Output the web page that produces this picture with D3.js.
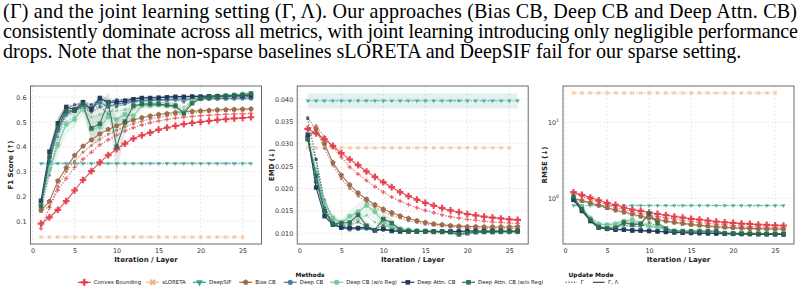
<!DOCTYPE html>
<html><head><meta charset="utf-8">
<script src="https://cdn.jsdelivr.net/npm/d3@7"></script>
<style>body{margin:0;background:#fff;} svg{display:block;}</style>
</head><body><svg id="c" width="805" height="292"></svg>
<script>
// ---------------- DATA ----------------
const paragraph = [
  "(\u0393) and the joint learning setting (\u0393, \u039B). Our approaches (Bias CB, Deep CB and Deep Attn. CB)",
  "consistently dominate across all metrics, with joint learning introducing only negligible performance",
  "drops. Note that the non-sparse baselines sLORETA and DeepSIF fail for our sparse setting."
];
const iterations = [1,2,3,4,5,6,7,8,9,10,11,12,13,14,15,16,17,18,19,20,21,22,23,24,25,26];
const sloretaIters = [1,2,3,4,5,6,7,8,9,10,11,12,13,14,15,16,17,18,19,20,21,22,23,24,25];
const methods = ["Convex Bounding","sLORETA","DeepSIF","Bias CB","Deep CB","Deep CB (w/o Reg)","Deep Attn. CB","Deep Attn. CB (w/o Reg)"];
const modes = ["\u0393","\u0393, \u039B"];
const xTicks = [0,5,10,15,20,25];
const f1Ticks = [0.1,0.2,0.3,0.4,0.5,0.6];
const emdTicks = [0.010,0.015,0.020,0.025,0.030,0.035,0.040];
const rmseTicks = [1,10];

// F1 score
const f1_sloreta = [0.036,0.036,0.036,0.036,0.036,0.036,0.036,0.036,0.036,0.036,0.036,0.036,0.036,0.036,0.036,0.036,0.036,0.036,0.036,0.036,0.036,0.036,0.036,0.036,0.036];
const f1_deepsif = [0.333,0.333,0.333,0.333,0.333,0.333,0.333,0.333,0.333,0.333,0.333,0.333,0.333,0.333,0.333,0.333,0.333,0.333,0.333,0.333,0.333,0.333,0.333,0.333,0.333,0.333];
const f1_deepsif_band = [0.007,0.007,0.007,0.007,0.007,0.007,0.007,0.007,0.007,0.007,0.007,0.007,0.007,0.007,0.007,0.007,0.007,0.007,0.007,0.007,0.007,0.007,0.007,0.007,0.007,0.007];
const f1_cb_G   = [0.070,0.155,0.225,0.272,0.317,0.350,0.378,0.408,0.428,0.447,0.464,0.477,0.488,0.497,0.504,0.510,0.515,0.519,0.522,0.525,0.527,0.529,0.531,0.532,0.533,0.535];
const f1_cb_GL  = [0.090,0.115,0.146,0.181,0.224,0.266,0.302,0.337,0.366,0.390,0.413,0.433,0.446,0.457,0.469,0.477,0.484,0.491,0.496,0.500,0.504,0.508,0.511,0.514,0.516,0.519];
const f1_bias_G = [0.140,0.160,0.240,0.300,0.342,0.378,0.405,0.430,0.450,0.467,0.481,0.493,0.503,0.512,0.519,0.525,0.530,0.534,0.537,0.540,0.542,0.544,0.546,0.547,0.548,0.549];
const f1_bias_GL= [0.143,0.180,0.262,0.315,0.365,0.402,0.428,0.452,0.470,0.485,0.497,0.508,0.517,0.524,0.530,0.534,0.538,0.541,0.543,0.545,0.547,0.549,0.550,0.551,0.552,0.553];
const f1_dcb_G  = [0.150,0.285,0.440,0.525,0.545,0.560,0.555,0.565,0.530,0.565,0.570,0.580,0.585,0.585,0.587,0.588,0.588,0.590,0.590,0.590,0.591,0.591,0.592,0.592,0.593,0.593];
const f1_dcb_GL = [0.170,0.340,0.465,0.535,0.545,0.565,0.558,0.578,0.562,0.572,0.577,0.585,0.588,0.588,0.590,0.590,0.592,0.592,0.593,0.594,0.594,0.595,0.595,0.596,0.596,0.596];
const f1_wo_G   = [0.160,0.300,0.400,0.500,0.520,0.545,0.520,0.530,0.540,0.545,0.550,0.555,0.575,0.575,0.578,0.580,0.575,0.560,0.590,0.595,0.598,0.600,0.601,0.602,0.603,0.605];
const f1_wo_GL  = [0.165,0.310,0.410,0.490,0.510,0.560,0.470,0.480,0.520,0.510,0.530,0.525,0.565,0.565,0.568,0.565,0.560,0.540,0.590,0.600,0.603,0.606,0.608,0.610,0.612,0.615];
const f1_att_G  = [0.170,0.360,0.485,0.555,0.570,0.575,0.570,0.590,0.580,0.590,0.590,0.595,0.598,0.598,0.600,0.600,0.602,0.602,0.603,0.603,0.604,0.604,0.605,0.605,0.605,0.606];
const f1_att_GL = [0.182,0.380,0.495,0.560,0.550,0.580,0.550,0.597,0.580,0.580,0.585,0.592,0.597,0.597,0.598,0.600,0.602,0.602,0.603,0.603,0.604,0.604,0.604,0.605,0.605,0.605];
const f1_awo_G  = [0.160,0.340,0.470,0.540,0.545,0.560,0.540,0.560,0.570,0.560,0.575,0.580,0.585,0.585,0.588,0.590,0.590,0.580,0.595,0.600,0.602,0.604,0.605,0.606,0.607,0.608];
const f1_awo_GL = [0.160,0.360,0.480,0.545,0.545,0.570,0.475,0.493,0.580,0.400,0.502,0.565,0.572,0.572,0.572,0.568,0.565,0.534,0.575,0.595,0.600,0.603,0.605,0.607,0.610,0.615];
const f1_wo_band  = [0.010,0.030,0.050,0.040,0.030,0.030,0.050,0.050,0.030,0.040,0.030,0.030,0.015,0.012,0.012,0.012,0.012,0.015,0.010,0.008,0.006,0.006,0.006,0.006,0.006,0.006];
const f1_awo_band = [0.010,0.030,0.040,0.020,0.020,0.020,0.060,0.080,0.040,0.110,0.050,0.020,0.012,0.010,0.010,0.010,0.010,0.015,0.010,0.006,0.006,0.006,0.006,0.006,0.006,0.006];
const f1_att_band = [0.010,0.020,0.020,0.015,0.015,0.015,0.020,0.012,0.015,0.012,0.010,0.008,0.006,0.006,0.006,0.006,0.006,0.006,0.006,0.005,0.005,0.005,0.005,0.005,0.005,0.005];

// EMD
const emd_sloreta = [0.0291,0.0291,0.0291,0.0291,0.0291,0.0291,0.0291,0.0291,0.0291,0.0291,0.0291,0.0291,0.0291,0.0291,0.0291,0.0291,0.0291,0.0291,0.0291,0.0291,0.0291,0.0291,0.0291,0.0291,0.0291];
const emd_deepsif = [0.0396,0.0396,0.0396,0.0396,0.0396,0.0396,0.0396,0.0396,0.0396,0.0396,0.0396,0.0396,0.0396,0.0396,0.0396,0.0396,0.0396,0.0396,0.0396,0.0396,0.0396,0.0396,0.0396,0.0396,0.0396,0.0396];
const emd_deepsif_band = [0.0017,0.0017,0.0017,0.0017,0.0017,0.0017,0.0017,0.0017,0.0017,0.0017,0.0017,0.0017,0.0017,0.0017,0.0017,0.0017,0.0017,0.0017,0.0017,0.0017,0.0017,0.0017,0.0017,0.0017,0.0017,0.0017];
const emd_cb_G   = [0.0333,0.0340,0.0315,0.0293,0.0270,0.0248,0.0232,0.0218,0.0204,0.0192,0.0181,0.0172,0.0164,0.0157,0.0151,0.0146,0.0141,0.0137,0.0134,0.0131,0.0129,0.0127,0.0125,0.0124,0.0123,0.0122];
const emd_cb_GL  = [0.0333,0.0323,0.0310,0.0295,0.0279,0.0265,0.0252,0.0238,0.0226,0.0214,0.0203,0.0192,0.0183,0.0175,0.0168,0.0162,0.0156,0.0151,0.0147,0.0143,0.0140,0.0137,0.0135,0.0133,0.0131,0.0130];
const emd_bias_G = [0.0359,0.0330,0.0290,0.0252,0.0222,0.0200,0.0183,0.0170,0.0158,0.0148,0.0140,0.0134,0.0128,0.0124,0.0120,0.0118,0.0116,0.0114,0.0113,0.0112,0.0112,0.0111,0.0111,0.0111,0.0111,0.0111];
const emd_bias_GL= [0.0313,0.0333,0.0300,0.0258,0.0230,0.0208,0.0190,0.0176,0.0164,0.0154,0.0146,0.0139,0.0133,0.0128,0.0124,0.0121,0.0119,0.0117,0.0116,0.0115,0.0115,0.0114,0.0114,0.0114,0.0114,0.0115];
const emd_dcb_G  = [0.0318,0.0265,0.0175,0.0130,0.0118,0.0112,0.0110,0.0110,0.0108,0.0107,0.0106,0.0106,0.0105,0.0105,0.0105,0.0105,0.0104,0.0104,0.0104,0.0104,0.0104,0.0104,0.0104,0.0104,0.0103,0.0103];
const emd_dcb_GL = [0.0310,0.0215,0.0148,0.0122,0.0112,0.0109,0.0110,0.0111,0.0107,0.0109,0.0106,0.0105,0.0105,0.0105,0.0105,0.0104,0.0104,0.0104,0.0104,0.0104,0.0104,0.0104,0.0104,0.0104,0.0104,0.0104];
const emd_wo_G   = [0.0315,0.0245,0.0170,0.0135,0.0125,0.0125,0.0130,0.0140,0.0125,0.0118,0.0112,0.0108,0.0106,0.0105,0.0104,0.0104,0.0103,0.0103,0.0103,0.0103,0.0103,0.0102,0.0102,0.0102,0.0102,0.0102];
const emd_wo_GL  = [0.0310,0.0235,0.0165,0.0135,0.0123,0.0138,0.0148,0.0162,0.0148,0.0125,0.0115,0.0110,0.0108,0.0106,0.0105,0.0104,0.0104,0.0103,0.0103,0.0103,0.0103,0.0103,0.0102,0.0102,0.0102,0.0102];
const emd_att_G  = [0.0356,0.0265,0.0160,0.0122,0.0114,0.0112,0.0110,0.0110,0.0107,0.0107,0.0106,0.0105,0.0105,0.0105,0.0105,0.0104,0.0104,0.0104,0.0104,0.0104,0.0104,0.0104,0.0104,0.0104,0.0104,0.0104];
const emd_att_GL = [0.0320,0.0202,0.0138,0.0119,0.0113,0.0112,0.0112,0.0114,0.0106,0.0110,0.0105,0.0104,0.0104,0.0104,0.0104,0.0104,0.0104,0.0104,0.0104,0.0105,0.0105,0.0105,0.0105,0.0105,0.0105,0.0105];
const emd_awo_G  = [0.0312,0.0235,0.0155,0.0122,0.0118,0.0118,0.0125,0.0115,0.0108,0.0118,0.0112,0.0106,0.0105,0.0104,0.0104,0.0103,0.0103,0.0102,0.0100,0.0101,0.0102,0.0102,0.0103,0.0103,0.0103,0.0103];
const emd_awo_GL = [0.0310,0.0228,0.0150,0.0120,0.0123,0.0124,0.0141,0.0117,0.0107,0.0132,0.0123,0.0108,0.0105,0.0104,0.0104,0.0103,0.0103,0.0102,0.0097,0.0100,0.0102,0.0103,0.0103,0.0104,0.0104,0.0104];
const emd_wo_band  = [0.0006,0.0015,0.0015,0.0010,0.0008,0.0012,0.0018,0.0020,0.0015,0.0010,0.0008,0.0005,0.0004,0.0003,0.0003,0.0003,0.0003,0.0003,0.0003,0.0003,0.0003,0.0003,0.0003,0.0003,0.0003,0.0003];
const emd_awo_band = [0.0006,0.0015,0.0012,0.0006,0.0008,0.0010,0.0014,0.0010,0.0006,0.0012,0.0010,0.0004,0.0003,0.0003,0.0003,0.0003,0.0003,0.0003,0.0004,0.0003,0.0003,0.0003,0.0003,0.0003,0.0003,0.0003];

// RMSE
const rmse_sloreta = [24.3,24.3,24.3,24.3,24.3,24.3,24.3,24.3,24.3,24.3,24.3,24.3,24.3,24.3,24.3,24.3,24.3,24.3,24.3,24.3,24.3,24.3,24.3,24.3,24.3];
const rmse_deepsif = [0.80,0.80,0.80,0.80,0.80,0.80,0.80,0.80,0.80,0.80,0.80,0.80,0.80,0.80,0.80,0.80,0.80,0.80,0.80,0.80,0.80,0.80,0.80,0.80,0.80,0.80];
const rmse_deepsif_band = [0.01,0.01,0.01,0.01,0.01,0.01,0.01,0.01,0.01,0.01,0.01,0.01,0.01,0.01,0.01,0.01,0.01,0.01,0.01,0.01,0.01,0.01,0.01,0.01,0.01,0.01];
const rmse_cb_G   = [1.15,1.06,0.97,0.89,0.82,0.76,0.71,0.665,0.63,0.60,0.575,0.55,0.53,0.51,0.495,0.48,0.468,0.457,0.447,0.44,0.432,0.425,0.42,0.415,0.41,0.407];
const rmse_cb_GL  = [1.20,1.11,1.02,0.94,0.868,0.817,0.754,0.71,0.68,0.648,0.622,0.598,0.574,0.557,0.535,0.524,0.508,0.493,0.483,0.474,0.464,0.46,0.45,0.446,0.441,0.437];
const rmse_bias_G = [0.98,0.91,0.85,0.79,0.73,0.68,0.64,0.60,0.565,0.535,0.51,0.49,0.47,0.455,0.44,0.43,0.42,0.412,0.405,0.40,0.396,0.392,0.389,0.387,0.385,0.384];
const rmse_bias_GL= [1.00,0.93,0.87,0.81,0.75,0.70,0.66,0.62,0.58,0.55,0.525,0.503,0.483,0.467,0.453,0.442,0.432,0.423,0.416,0.41,0.405,0.401,0.398,0.396,0.394,0.393];
const rmse_dcb_G  = [0.97,0.72,0.52,0.43,0.41,0.40,0.39,0.385,0.38,0.375,0.37,0.365,0.36,0.355,0.352,0.35,0.348,0.346,0.344,0.342,0.34,0.339,0.338,0.337,0.336,0.335];
const rmse_dcb_GL = [0.96,0.70,0.51,0.42,0.40,0.39,0.385,0.38,0.375,0.372,0.368,0.363,0.358,0.354,0.351,0.349,0.347,0.345,0.343,0.341,0.339,0.338,0.337,0.336,0.335,0.334];
const rmse_wo_G   = [1.00,0.76,0.56,0.46,0.44,0.44,0.46,0.48,0.45,0.42,0.41,0.39,0.375,0.37,0.365,0.36,0.358,0.355,0.35,0.348,0.346,0.345,0.344,0.343,0.342,0.341];
const rmse_wo_GL  = [1.00,0.75,0.55,0.46,0.45,0.46,0.50,0.52,0.47,0.43,0.42,0.39,0.37,0.365,0.36,0.358,0.356,0.354,0.35,0.348,0.347,0.346,0.345,0.344,0.343,0.342];
const rmse_att_G  = [0.98,0.70,0.51,0.41,0.395,0.39,0.385,0.38,0.378,0.372,0.366,0.36,0.355,0.352,0.349,0.347,0.345,0.343,0.341,0.34,0.339,0.338,0.337,0.336,0.335,0.334];
const rmse_att_GL = [0.95,0.68,0.50,0.41,0.395,0.385,0.385,0.375,0.375,0.37,0.365,0.36,0.355,0.352,0.349,0.347,0.345,0.343,0.341,0.34,0.339,0.338,0.337,0.336,0.335,0.334];
const rmse_awo_G  = [1.02,0.72,0.52,0.42,0.40,0.41,0.44,0.43,0.42,0.48,0.43,0.39,0.37,0.365,0.36,0.36,0.36,0.36,0.345,0.343,0.342,0.341,0.34,0.34,0.34,0.34];
const rmse_awo_GL = [1.05,0.72,0.52,0.42,0.40,0.41,0.48,0.45,0.46,0.63,0.47,0.40,0.37,0.37,0.37,0.37,0.37,0.37,0.345,0.343,0.342,0.341,0.34,0.34,0.34,0.34];
const rmse_wo_band  = [0.03,0.04,0.04,0.03,0.03,0.04,0.05,0.05,0.04,0.03,0.03,0.02,0.01,0.01,0.01,0.01,0.01,0.01,0.01,0.01,0.01,0.01,0.01,0.01,0.01,0.01];
const rmse_awo_band = [0.03,0.03,0.03,0.02,0.02,0.03,0.05,0.04,0.04,0.06,0.04,0.02,0.01,0.01,0.01,0.01,0.01,0.01,0.01,0.01,0.01,0.01,0.01,0.01,0.01,0.01];

// ---------------- STYLE ----------------
const methodColors = ["#e63946","#f4a261","#2a9d8f","#9c6644","#457b9d","#74c69d","#1d3557","#2d6a4f"];
const methodMarkers = ["plus","x","tri","pent","circle","circle","square","square"];

// series tables per metric: [methodIndex, modeIndex, values, band]
const metricSeries = {
  f1: [[0,0,f1_cb_G],[0,1,f1_cb_GL],[3,0,f1_bias_G],[3,1,f1_bias_GL],[4,0,f1_dcb_G],[4,1,f1_dcb_GL],
       [5,0,f1_wo_G],[5,1,f1_wo_GL,f1_wo_band],[6,0,f1_att_G],[6,1,f1_att_GL,f1_att_band],[7,0,f1_awo_G],[7,1,f1_awo_GL,f1_awo_band]],
  emd:[[0,0,emd_cb_G],[0,1,emd_cb_GL],[3,0,emd_bias_G],[3,1,emd_bias_GL],[4,0,emd_dcb_G],[4,1,emd_dcb_GL],
       [5,0,emd_wo_G],[5,1,emd_wo_GL,emd_wo_band],[6,0,emd_att_G],[6,1,emd_att_GL],[7,0,emd_awo_G],[7,1,emd_awo_GL,emd_awo_band]],
  rmse:[[0,0,rmse_cb_G],[0,1,rmse_cb_GL],[3,0,rmse_bias_G],[3,1,rmse_bias_GL],[4,0,rmse_dcb_G],[4,1,rmse_dcb_GL],
       [5,0,rmse_wo_G],[5,1,rmse_wo_GL,rmse_wo_band],[6,0,rmse_att_G],[6,1,rmse_att_GL],[7,0,rmse_awo_G],[7,1,rmse_awo_GL,rmse_awo_band]]
};
const metricBaselines = {
  f1:  {slo:f1_sloreta, dsif:f1_deepsif, dsifBand:f1_deepsif_band},
  emd: {slo:emd_sloreta, dsif:emd_deepsif, dsifBand:emd_deepsif_band},
  rmse:{slo:rmse_sloreta, dsif:rmse_deepsif, dsifBand:rmse_deepsif_band}
};

// ---------------- DRAW ----------------
const svg = d3.select('#c');
const TOP = 86, BOT = 244;
const SANS = "DejaVu Sans, sans-serif";

// paragraph
const ptxt = svg.append('g').attr('font-family','Liberation Serif, Times New Roman, serif').attr('fill','#000');
const lineY = [17.5, 37.8, 58];
const lineLen = [794, 795, 739];
const t3 = ptxt.append('text').attr('x',3).attr('y',lineY[2]).attr('font-size',18).text(paragraph[2]);
const nat = t3.node().getComputedTextLength();
const fs = 18 * lineLen[2] / nat;
t3.attr('font-size', fs);
paragraph.slice(0,2).forEach((s,i)=>{
  ptxt.append('text').attr('x',3).attr('y',lineY[i]).attr('font-size',fs)
    .attr('textLength',lineLen[i]).attr('lengthAdjust','spacing').text(s);
});

const pentType = {draw(ctx,size){const r=Math.sqrt(size/2.3776);for(let i=0;i<5;i++){const a=-Math.PI/2+i*2*Math.PI/5;const px=r*Math.cos(a),py=r*Math.sin(a);if(i)ctx.lineTo(px,py);else ctx.moveTo(px,py);}ctx.closePath();}};
function symType(m){return m==='plus'||m==='x'?d3.symbolCross:m==='tri'?d3.symbolTriangle:m==='pent'?pentType:m==='circle'?d3.symbolCircle:d3.symbolSquare;}
function symRot(m){return m==='x'?45:m==='tri'?180:0;}
function symSize(m,base){return m==='plus'||m==='x'?base*1.25:m==='circle'?base*0.95:m==='tri'?base*0.9:base;}

const panels = [
  {id:'f1', left:30.5, right:261.5, title:'F1 Score (\u2191)', titleX:11,
   y:d3.scaleLinear().domain([0.008,0.645]).range([BOT,TOP]), ticks:f1Ticks, fmt:d3.format('.1f')},
  {id:'emd', left:297.2, right:528.2, title:'EMD (\u2193)', titleX:271.5,
   y:d3.scaleLinear().domain([0.0076,0.0429]).range([BOT,TOP]), ticks:emdTicks, fmt:d3.format('.3f')},
  {id:'rmse', left:563, right:794, title:'RMSE (\u2193)', titleX:544.5,
   y:d3.scaleLog().domain([0.25,30]).range([BOT,TOP]), ticks:rmseTicks, fmt:null}
];

panels.forEach((p,pi)=>{
  const x = d3.scaleLinear().domain([-0.25,27.25]).range([p.left,p.right]);
  const y = p.y;
  const g = svg.append('g');
  const cid = 'clip'+pi;
  svg.append('clipPath').attr('id',cid).append('rect').attr('x',p.left).attr('y',TOP).attr('width',p.right-p.left).attr('height',BOT-TOP);

  // grid
  const grid = g.append('g').attr('stroke','#d9d9d9').attr('stroke-width',0.6).attr('stroke-dasharray','2,2');
  grid.selectAll('.gx').data(xTicks).join('line').attr('x1',d=>x(d)).attr('x2',d=>x(d)).attr('y1',TOP).attr('y2',BOT);
  grid.selectAll('.gy').data(p.ticks).join('line').attr('y1',d=>y(d)).attr('y2',d=>y(d)).attr('x1',p.left).attr('x2',p.right);

  // axes
  const ax = g.append('g').attr('transform',`translate(0,${BOT})`)
    .call(d3.axisBottom(x).tickValues(xTicks).tickSize(0).tickPadding(4.5));
  const ay = g.append('g').attr('transform',`translate(${p.left},0)`)
    .call(d3.axisLeft(y).tickValues(p.ticks).tickSize(0).tickPadding(4).tickFormat(p.fmt||(d=>'10')));
  [ax,ay].forEach(a=>{a.select('.domain').remove(); a.selectAll('text').attr('font-family',SANS).attr('font-size',6.4).attr('fill','#333');});
  if(!p.fmt){
    ay.selectAll('text').each(function(d){
      const t=d3.select(this); t.text(null);
      t.append('tspan').text('10');
      t.append('tspan').attr('dy',-2.6).attr('font-size',4.6).text(String(Math.round(Math.log10(d))));
    });
  }

  const plot = g.append('g').attr('clip-path',`url(#${cid})`);
  const line = d3.line().x(d=>x(d[0])).y(d=>y(d[1]));
  const area = d3.area().x(d=>x(d[0])).y0(d=>y(d[1]-d[2])).y1(d=>y(d[1]+d[2]));

  const bl = metricBaselines[p.id];
  const series = metricSeries[p.id];

  // bands
  plot.append('path').datum(iterations.map((it,i)=>[it,bl.dsif[i],bl.dsifBand[i]]))
    .attr('d',area).attr('fill',methodColors[2]).attr('fill-opacity',0.13);
  series.filter(s=>s[3]).forEach(s=>{
    plot.append('path').datum(iterations.map((it,i)=>[it,s[2][i],s[3][i]]))
      .attr('d',area).attr('fill',s[0]===7?'#6b7f75':methodColors[s[0]]).attr('fill-opacity',0.16);
  });

  // baselines (dash-dot)
  [[1,sloretaIters,bl.slo],[2,iterations,bl.dsif]].forEach(([m,its,vals])=>{
    const pts = its.map((it,i)=>[it,vals[i]]);
    plot.append('path').datum(pts).attr('d',line).attr('fill','none')
      .attr('stroke',methodColors[m]).attr('stroke-width',1).attr('stroke-opacity',m===1?0.55:0.8)
      .attr('stroke-dasharray','3.5,1.2,1,1.2');
    plot.selectAll(null).data(pts).join('path')
      .attr('d',d3.symbol(symType(methodMarkers[m]),symSize(methodMarkers[m],9)))
      .attr('transform',d=>`translate(${x(d[0])},${y(d[1])}) rotate(${symRot(methodMarkers[m])})`)
      .attr('fill',methodColors[m]).attr('fill-opacity',m===1?0.5:0.75);
  });

  // learned methods: Γ (dotted) then Γ,Λ (solid)
  [0,1].forEach(mode=>{
    series.filter(s=>s[1]===mode).forEach(s=>{
      const m=s[0], col=methodColors[m], mk=methodMarkers[m];
      const pts = iterations.map((it,i)=>[it,s[2][i]]);
      plot.append('path').datum(pts).attr('d',line).attr('fill','none')
        .attr('stroke',col).attr('stroke-width',mode?1.1:1.2)
        .attr('stroke-opacity',mode?0.9:0.75)
        .attr('stroke-dasharray',mode?null:'1.3,1.5');
      plot.selectAll(null).data(pts).join('path')
        .attr('d',d3.symbol(symType(mk),symSize(mk,mode?20:8)))
        .attr('transform',d=>`translate(${x(d[0])},${y(d[1])}) rotate(${symRot(mk)})`)
        .attr('fill',col).attr('fill-opacity',mode?0.92:0.7);
    });
  });

  // frame
  g.append('rect').attr('x',p.left).attr('y',TOP).attr('width',p.right-p.left).attr('height',BOT-TOP)
    .attr('fill','none').attr('stroke','#5a5a5a').attr('stroke-width',0.9);

  // titles
  g.append('text').attr('transform',`translate(${p.titleX},${(TOP+BOT)/2}) rotate(-90)`)
    .attr('text-anchor','middle').attr('dominant-baseline','central')
    .attr('font-family',SANS).attr('font-weight','bold').attr('font-size',7).attr('fill','#222').text(p.title);
  g.append('text').attr('x',(p.left+p.right)/2).attr('y',261.5)
    .attr('text-anchor','middle').attr('font-family',SANS).attr('font-weight','bold').attr('font-size',7)
    .attr('fill','#222').text('Iteration / Layer');
});

// ---------------- LEGEND ----------------
const lg = svg.append('g').attr('font-family',SANS);
const LY = 282.3;
const legX = [84.3,152.7,199.5,245.7,290.3,336.7,407.8,468.5];
lg.append('text').attr('x',310).attr('y',274.5).attr('text-anchor','middle').attr('dominant-baseline','central')
  .attr('font-weight','bold').attr('font-size',6).attr('fill','#111').text('Methods');
methods.forEach((name,i)=>{
  const cx = legX[i], col = methodColors[i], mk = methodMarkers[i];
  lg.append('line').attr('x1',cx-6.5).attr('x2',cx+6.5).attr('y1',LY).attr('y2',LY)
    .attr('stroke',col).attr('stroke-width',1.3).attr('stroke-opacity',i===1?0.7:0.9);
  lg.append('path').attr('d',d3.symbol(symType(mk),symSize(mk,22))())
    .attr('transform',`translate(${cx},${LY}) rotate(${symRot(mk)})`).attr('fill',col).attr('fill-opacity',i===1?0.75:0.95);
  lg.append('text').attr('x',cx+9.5).attr('y',LY).attr('dominant-baseline','central')
    .attr('font-size',5.4).attr('fill','#222').text(name);
});
lg.append('text').attr('x',591).attr('y',274.5).attr('text-anchor','middle').attr('dominant-baseline','central')
  .attr('font-weight','bold').attr('font-size',6).attr('fill','#111').text('Update Mode');
[[565.5,null,modes[0]],[593,'solid',modes[1]]].forEach(([x0,kind,lab],i)=>{
  lg.append('line').attr('x1',x0).attr('x2',x0+11.5).attr('y1',LY).attr('y2',LY)
    .attr('stroke','#333').attr('stroke-width',1.1).attr('stroke-dasharray',i===0?'1.3,1.5':null);
  lg.append('text').attr('x',x0+15).attr('y',LY).attr('dominant-baseline','central')
    .attr('font-size',5.4).attr('fill','#222').text(lab);
});
</script>
</body></html>
